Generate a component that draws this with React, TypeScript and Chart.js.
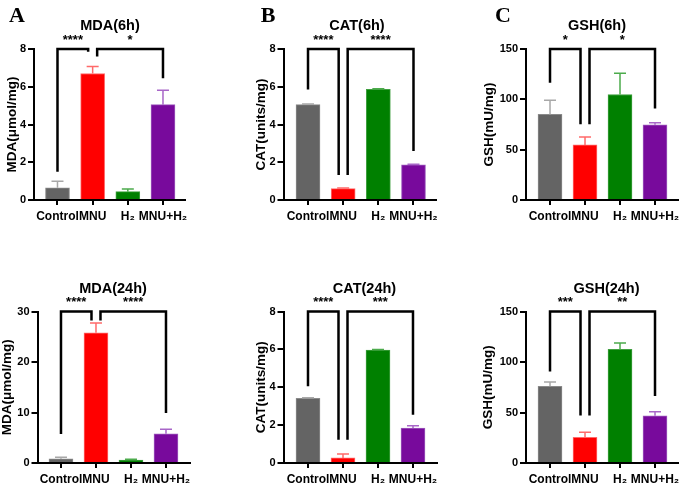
import React, { useEffect, useRef } from "react";
import { Chart, registerables } from "chart.js";

Chart.register(...registerables);

const FONT = "'Liberation Sans', Arial, Helvetica, sans-serif";
const SERIF = "'Liberation Serif', 'Times New Roman', serif";

// ---------- data ----------
const categories = ["Control", "MNU", "H₂", "MNU+H₂"];
const barColors = ["#646464", "#ff0000", "#008000", "#780a9c"];
const barEdgeColors = ["#8a8a8a", "#ff6a6a", "#3f9f3f", "#9d5abd"];
const errorColors = ["#a8a8a8", "#ff6a6a", "#4cab4c", "#a866c8"];

const mda6hValues = [0.65, 6.7, 0.44, 5.05];
const mda6hErrors = [0.35, 0.37, 0.14, 0.77];
const cat6hValues = [5.05, 0.6, 5.86, 1.86];
const cat6hErrors = [0.03, 0.04, 0.03, 0.04];
const gsh6hValues = [85, 54.7, 104.8, 74.7];
const gsh6hErrors = [14, 8, 21, 2];

const mda24hValues = [0.85, 25.8, 0.6, 5.8];
const mda24hErrors = [0.3, 1.9, 0.15, 0.9];
const cat24hValues = [3.42, 0.27, 5.96, 1.85];
const cat24hErrors = [0.03, 0.2, 0.04, 0.12];
const gsh24hValues = [76, 25.5, 112.5, 46.8];
const gsh24hErrors = [4.3, 5, 6.3, 4];

// significance brackets: from / to category, stars, leg end values (data units)
const mda6hBrackets = [
  { from: 0, to: 1, stars: "****", fromEnd: 1.5, toEnd: 7.85 },
  { from: 1, to: 3, stars: "*", fromEnd: 7.6, toEnd: 6.45 },
];
const cat6hBrackets = [
  { from: 0, to: 1, stars: "****", fromEnd: 5.85, toEnd: 1.32 },
  { from: 1, to: 3, stars: "****", fromEnd: 1.32, toEnd: 2.6 },
];
const gsh6hBrackets = [
  { from: 0, to: 1, stars: "*", fromEnd: 116.5, toEnd: 75.2 },
  { from: 1, to: 3, stars: "*", fromEnd: 75.2, toEnd: 91 },
];
const mda24hBrackets = [
  { from: 0, to: 1, stars: "****", fromEnd: 5.75, toEnd: 28.2 },
  { from: 1, to: 3, stars: "****", fromEnd: 28.2, toEnd: 9.9 },
];
const cat24hBrackets = [
  { from: 0, to: 1, stars: "****", fromEnd: 4.05, toEnd: 1.23 },
  { from: 1, to: 3, stars: "***", fromEnd: 1.23, toEnd: 2.55 },
];
const gsh24hBrackets = [
  { from: 0, to: 1, stars: "***", fromEnd: 90.7, toEnd: 47.1 },
  { from: 1, to: 3, stars: "**", fromEnd: 47.1, toEnd: 66.3 },
];

// ---------- panels (layout in page pixels) ----------
const panels: any[] = [
  {
    key: "mda6", letter: "A", title: "MDA(6h)", yTitle: "MDA(μmol/mg)",
    values: mda6hValues, errors: mda6hErrors, brackets: mda6hBrackets, yMax: 8, yStep: 2,
    lay: { left: 34, right: 185, top: 49, bottom: 200, xMin: -0.668, xMax: 3.626, yTitleX: 12, titleX: 110, titleY: 30, letterX: 17, letterY: 22 },
  },
  {
    key: "cat6", letter: "B", title: "CAT(6h)", yTitle: "CAT(units/mg)",
    values: cat6hValues, errors: cat6hErrors, brackets: cat6hBrackets, yMax: 8, yStep: 2,
    lay: { left: 283.5, right: 436, top: 49, bottom: 200, xMin: -0.697, xMax: 3.64, yTitleX: 261, titleX: 357, titleY: 30, letterX: 268, letterY: 22 },
  },
  {
    key: "gsh6", letter: "C", title: "GSH(6h)", yTitle: "GSH(mU/mg)",
    values: gsh6hValues, errors: gsh6hErrors, brackets: gsh6hBrackets, yMax: 150, yStep: 50,
    lay: { left: 526, right: 678, top: 49, bottom: 200, xMin: -0.686, xMax: 3.657, yTitleX: 489, titleX: 597, titleY: 30, letterX: 503, letterY: 22 },
  },
  {
    key: "mda24", letter: "", title: "MDA(24h)", yTitle: "MDA(μmol/mg)",
    values: mda24hValues, errors: mda24hErrors, brackets: mda24hBrackets, yMax: 30, yStep: 10,
    lay: { left: 37.5, right: 190, top: 311.5, bottom: 463, xMin: -0.671, xMax: 3.686, yTitleX: 7, titleX: 113, titleY: 292.5, letterX: 0, letterY: 0 },
  },
  {
    key: "cat24", letter: "", title: "CAT(24h)", yTitle: "CAT(units/mg)",
    values: cat24hValues, errors: cat24hErrors, brackets: cat24hBrackets, yMax: 8, yStep: 2,
    lay: { left: 283.5, right: 437, top: 311.5, bottom: 463, xMin: -0.7, xMax: 3.686, yTitleX: 261, titleX: 364.5, titleY: 292.5, letterX: 0, letterY: 0 },
  },
  {
    key: "gsh24", letter: "", title: "GSH(24h)", yTitle: "GSH(mU/mg)",
    values: gsh24hValues, errors: gsh24hErrors, brackets: gsh24hBrackets, yMax: 150, yStep: 50,
    lay: { left: 526, right: 678, top: 311.5, bottom: 463, xMin: -0.686, xMax: 3.657, yTitleX: 488, titleX: 606.5, titleY: 292.5, letterX: 0, letterY: 0 },
  },
];

const W = 680;
const H = 486;
const Y_TITLE_SIZE = 13.5;
const X_HEIGHT = 20;

function annotationPlugin(p: any) {
  return {
    id: "annot_" + p.key,
    afterDatasetsDraw(chart: any) {
      const ctx = chart.ctx;
      const xs = chart.scales.x;
      const ys = chart.scales.y;
      const meta = chart.getDatasetMeta(0);
      ctx.save();
      // error bars (upper only)
      meta.data.forEach((bar: any, i: number) => {
        const y0 = ys.getPixelForValue(p.values[i]);
        const y1 = ys.getPixelForValue(p.values[i] + p.errors[i]);
        ctx.strokeStyle = errorColors[i];
        ctx.lineWidth = 1.5;
        ctx.beginPath();
        ctx.moveTo(bar.x, y0);
        ctx.lineTo(bar.x, y1);
        ctx.moveTo(bar.x - 6, y1);
        ctx.lineTo(bar.x + 6, y1);
        ctx.stroke();
      });
      // brackets
      const usage: Record<number, number> = {};
      p.brackets.forEach((b: any) => {
        usage[b.from] = (usage[b.from] || 0) + 1;
        usage[b.to] = (usage[b.to] || 0) + 1;
      });
      const topY = ys.getPixelForValue(p.yMax);
      p.brackets.forEach((b: any) => {
        const x1 = xs.getPixelForValue(b.from) + (usage[b.from] > 1 ? 4.5 : 0);
        const x2 = xs.getPixelForValue(b.to) - (usage[b.to] > 1 ? 4.5 : 0);
        ctx.strokeStyle = "#000";
        ctx.lineWidth = 2.5;
        ctx.lineJoin = "miter";
        ctx.beginPath();
        ctx.moveTo(x1, ys.getPixelForValue(b.fromEnd));
        ctx.lineTo(x1, topY);
        ctx.lineTo(x2, topY);
        ctx.lineTo(x2, ys.getPixelForValue(b.toEnd));
        ctx.stroke();
        ctx.fillStyle = "#000";
        ctx.font = `bold 13px ${FONT}`;
        ctx.textAlign = "center";
        ctx.textBaseline = "alphabetic";
        ctx.fillText(b.stars, (x1 + x2) / 2, topY - 5.5);
      });
      ctx.restore();
    },
    afterDraw(chart: any) {
      const ctx = chart.ctx;
      const l = p.lay;
      ctx.save();
      ctx.fillStyle = "#000";
      ctx.textAlign = "center";
      ctx.textBaseline = "alphabetic";
      ctx.font = `bold 14.5px ${FONT}`;
      ctx.fillText(p.title, l.titleX, l.titleY);
      if (p.letter) {
        ctx.font = `bold 22px ${SERIF}`;
        ctx.fillText(p.letter, l.letterX, l.letterY);
      }
      ctx.restore();
    },
  };
}

function buildConfig(p: any): any {
  const l = p.lay;
  const scaleLeft = l.yTitleX - (Y_TITLE_SIZE * 1.2) / 2;
  const yWidth = l.left - scaleLeft;
  const axisColor = "#000";
  return {
    type: "bar",
    data: {
      datasets: [
        {
          data: p.values.map((v: number, i: number) => ({ x: i, y: v })),
          backgroundColor: barColors,
          borderColor: barEdgeColors,
          borderWidth: 1,
          barThickness: 24,
        },
      ],
    },
    options: {
      animation: false,
      responsive: false,
      maintainAspectRatio: false,
      devicePixelRatio: 1,
      events: [],
      layout: {
        padding: {
          left: scaleLeft,
          right: W - l.right,
          top: l.top,
          bottom: H - l.bottom - X_HEIGHT,
        },
      },
      plugins: {
        legend: { display: false },
        tooltip: { enabled: false },
        title: { display: false },
      },
      scales: {
        x: {
          type: "linear",
          min: l.xMin,
          max: l.xMax,
          offset: false,
          afterBuildTicks: (s: any) => {
            s.ticks = categories.map((_, i) => ({ value: i }));
          },
          afterFit: (s: any) => {
            s.height = X_HEIGHT;
            s.paddingLeft = 0;
            s.paddingRight = 0;
          },
          grid: {
            display: true,
            offset: false,
            drawOnChartArea: false,
            drawTicks: true,
            tickLength: 5,
            color: axisColor,
            lineWidth: 2,
          },
          border: { display: true, color: axisColor, width: 2 },
          ticks: {
            autoSkip: false,
            maxRotation: 0,
            minRotation: 0,
            padding: 4,
            color: "#000",
            font: { family: FONT, size: 12, weight: "bold" },
            callback: (v: any) => categories[v] ?? "",
          },
        },
        y: {
          type: "linear",
          min: 0,
          max: p.yMax,
          afterFit: (s: any) => {
            s.width = yWidth;
            s.paddingTop = 0;
            s.paddingBottom = 0;
          },
          grid: {
            display: true,
            drawOnChartArea: false,
            drawTicks: true,
            tickLength: 6,
            color: axisColor,
            lineWidth: 2,
          },
          border: { display: true, color: axisColor, width: 2 },
          ticks: {
            stepSize: p.yStep,
            padding: 2,
            color: "#000",
            font: { family: FONT, size: 11, weight: "bold" },
          },
          title: {
            display: true,
            text: p.yTitle,
            color: "#000",
            padding: 0,
            font: { family: FONT, size: Y_TITLE_SIZE, weight: "bold" },
          },
        },
      },
    },
    plugins: [annotationPlugin(p)],
  };
}

function Panel({ spec }: { spec: any }) {
  const ref = useRef<HTMLCanvasElement | null>(null);
  useEffect(() => {
    if (!ref.current) return;
    const chart = new Chart(ref.current, buildConfig(spec));
    return () => chart.destroy();
  }, [spec]);
  return (
    <canvas
      ref={ref}
      width={W}
      height={H}
      style={{ position: "absolute", left: 0, top: 0, width: W, height: H }}
    />
  );
}

export default function App() {
  return (
    <div
      style={{
        position: "fixed",
        left: 0,
        top: 0,
        width: W,
        height: H,
        background: "#ffffff",
        overflow: "hidden",
      }}
    >
      {panels.map((p) => (
        <Panel key={p.key} spec={p} />
      ))}
    </div>
  );
}
